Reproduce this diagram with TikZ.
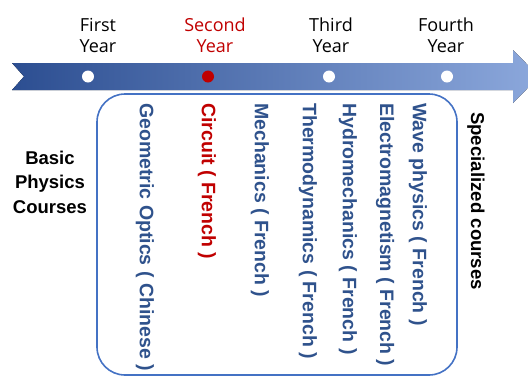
\documentclass[tikz,border=0pt]{standalone}
\usepackage{fontspec}
\setmainfont{Liberation Sans}
\newfontfamily\yearfont{Open Sans}
\definecolor{txtblue}{RGB}{47,82,140}
\definecolor{boxblue}{RGB}{68,114,196}
\definecolor{darkred}{RGB}{192,0,0}
\definecolor{arrleft}{RGB}{44,78,145}
\definecolor{arrright}{RGB}{140,168,220}
\tikzset{
  yearlbl/.style={align=center,inner sep=0pt,font=\yearfont\fontsize{18}{21}\selectfont,text=black},
  course/.style={rotate=-90,anchor=west,inner sep=0pt,font=\bfseries\fontsize{19.5}{24}\selectfont,text=txtblue},
  dotw/.style={circle,fill=white,minimum size=12pt,inner sep=0pt},
  coursebox/.style={draw=boxblue,line width=1.6pt,rounded corners=28pt},
  sidelbl/.style={align=center,inner sep=0pt,font=\bfseries\fontsize{18.5}{24.5}\selectfont,text=black}
}
\begin{document}
\begin{tikzpicture}[x=1pt,y=-1pt]
\useasboundingbox (0,0) rectangle (528,376);
% timeline arrow
\fill[left color=arrleft,right color=arrright]
  (12,63) -- (513,63) -- (513,50) -- (539,76.5) -- (513,103) -- (513,90) -- (12,90) -- (24,76.5) -- cycle;
% dots
\node[dotw] (d1) at (88,76.5) {};
\node[dotw,fill=darkred] (d2) at (208,76.5) {};
\node[dotw] (d3) at (329,76.5) {};
\node[dotw] (d4) at (447,76.5) {};
% year labels
\node[yearlbl] (y1) at (98,35) {First\\Year};
\node[yearlbl,text=darkred] (y2) at (215,35) {Second\\Year};
\node[yearlbl] (y3) at (331,35) {Third\\Year};
\node[yearlbl] (y4) at (446,35) {Fourth\\Year};
% course box
\draw[coursebox] (97,94) rectangle (457,375);
% courses
\node[course] (c1) at (145,103) {Geometric Optics ( Chinese )};
\node[course,text=darkred] (c2) at (207,103) {Circuit ( French )};
\node[course] (c3) at (260,103) {Mechanics ( French )};
\node[course] (c4) at (308,103) {Thermodynamics ( French )};
\node[course] (c5) at (348,103) {Hydromechanics ( French )};
\node[course] (c6) at (385,103) {Electromagnetism ( French )};
\node[course] (c7) at (418,103) {Wave physics ( French )};
\node[course,text=black,font=\bfseries\fontsize{18.6}{24}\selectfont] (sp) at (476,112) {Specialized courses};
% side label
\node[sidelbl] (basic) at (50,182) {Basic\\Physics\\Courses};
\end{tikzpicture}
\end{document}
